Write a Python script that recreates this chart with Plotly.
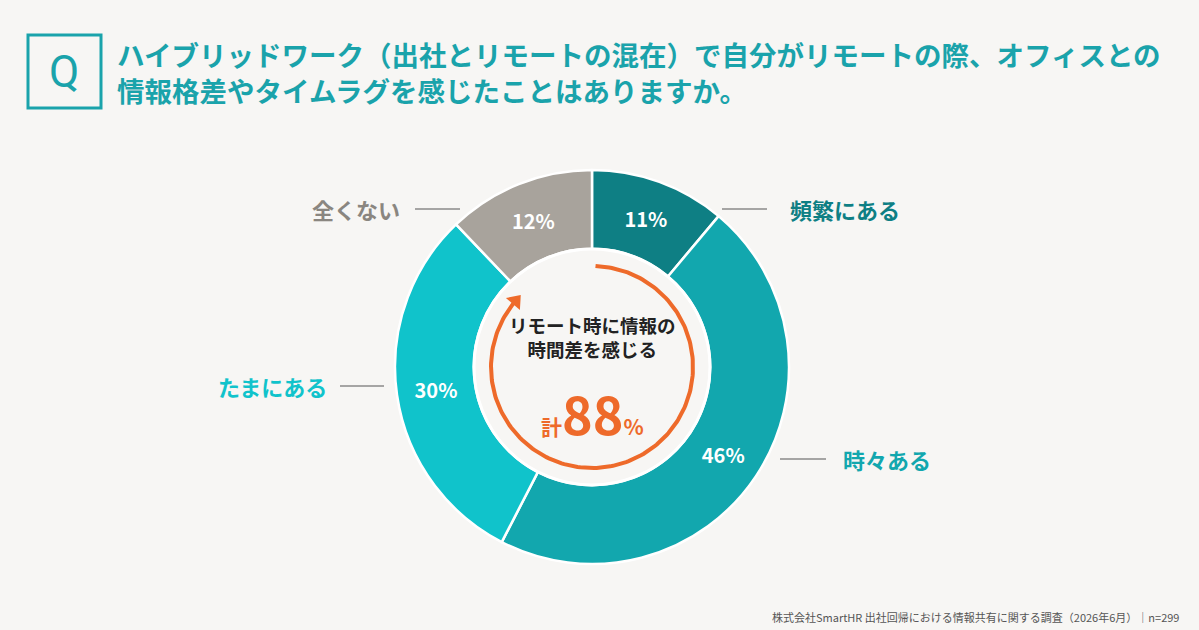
import plotly.graph_objects as go
import numpy as np

labels = ["頻繁にある", "時々ある", "たまにある", "全くない"]
values = [11, 46, 30, 12]
colors = ["#0e7f84", "#12a7ae", "#10c3cb", "#a8a39c"]
label_colors = ["#0e7f84", "#12a7ae", "#10c3cb", "#8a8680"]
total_yes = 88

W, H = 1199, 630
cx, cy, R = 592, 263, 197
F = "Noto Sans CJK JP"

fig = go.Figure()
fig.add_trace(go.Pie(
    values=values, labels=labels, sort=False, direction="clockwise", rotation=0,
    hole=0.6, marker=dict(colors=colors, line=dict(color="white", width=2.5)),
    texttemplate="<b>%{value}%</b>", textposition="inside", insidetextorientation="horizontal",
    textfont=dict(color="white", size=20, family=F), showlegend=False, hoverinfo="skip",
    domain=dict(x=[(cx - R) / W, (cx + R) / W], y=[(cy - R) / H, (cy + R) / H]),
))

r = 101
start = np.radians(2)
end = start + np.radians(360 * total_yes / 100 - 8)
t = np.linspace(start, end, 200)
xs = cx + r * np.sin(t)
ys = cy + r * np.cos(t)
fig.add_trace(go.Scatter(x=xs, y=ys, mode="lines", line=dict(color="#ee6a2a", width=4),
                         showlegend=False, hoverinfo="skip"))
ang_dir = np.degrees(end) + 90
fig.add_trace(go.Scatter(x=[xs[-1]], y=[ys[-1]], mode="markers",
                         marker=dict(symbol="triangle-up", size=16, color="#ee6a2a", angle=ang_dir),
                         showlegend=False, hoverinfo="skip"))

fig.add_shape(type="circle", x0=cx - 118, x1=cx + 118, y0=cy - 118, y1=cy + 118,
              line=dict(color="white", width=3), xref="x", yref="y")

fig.add_shape(type="rect", x0=28, x1=101, y0=H - 108, y1=H - 35,
              line=dict(color="#1aa3ab", width=3), xref="x", yref="y")
ann = []
ann.append(dict(x=64, y=H - 72, text="Q", font=dict(size=44, color="#1aa3ab", family="Roboto"),
                showarrow=False))
ann.append(dict(x=115, y=H - 72, xanchor="left", align="left",
                text="<b>ハイブリッドワーク（出社とリモートの混在）で自分がリモートの際、オフィスとの<br>情報格差やタイムラグを感じたことはありますか。</b>",
                font=dict(size=27.5, color="#1aa3ab", family=F), showarrow=False))
ann.append(dict(x=592, y=H - 337, text="<b>リモート時に情報の<br>時間差を感じる</b>",
                font=dict(size=18.5, color="#222", family=F), showarrow=False))
ann.append(dict(x=592, y=H - 412, text=f"<b><span style='font-size:21px'>計</span><span style='font-size:52px'>{total_yes}</span><span style='font-size:21px'>%</span></b>",
                font=dict(color="#ee6a2a", family=F), showarrow=False))
pos = [(788, 209, 722, 767, "left"), (841, 459, 780, 826, "left"),
       (329, 386, 340, 384, "right"), (402, 209, 415, 460, "right")]
for (lx, ly, l0, l1, anc), lab, c in zip(pos, labels, label_colors):
    ann.append(dict(x=lx, y=H - ly, text=f"<b>{lab}</b>", xanchor=anc,
                    font=dict(size=22, color=c, family=F), showarrow=False))
    fig.add_shape(type="line", x0=l0, x1=l1, y0=H - ly, y1=H - ly,
                  line=dict(color="#555", width=1), xref="x", yref="y")
ann.append(dict(x=1181, y=H - 617, xanchor="right", text="株式会社SmartHR 出社回帰における情報共有に関する調査（2026年6月）｜n=299",
                font=dict(size=11, color="#555", family=F), showarrow=False))

fig.update_layout(width=W, height=H, margin=dict(l=0, r=0, t=0, b=0),
                  paper_bgcolor="#f7f6f4", plot_bgcolor="rgba(0,0,0,0)",
                  xaxis=dict(range=[0, W], visible=False, fixedrange=True),
                  yaxis=dict(range=[0, H], visible=False, fixedrange=True),
                  annotations=ann)
body = fig.to_html(full_html=False, include_plotlyjs=True, config={"displayModeBar": False})
with open("out.html", "w", encoding="utf-8") as f:
    f.write("<!DOCTYPE html><html><head><meta charset='utf-8'></head>"
            "<body style='margin:0;padding:0;background:#f7f6f4;overflow:hidden'>" + body + "</body></html>")
